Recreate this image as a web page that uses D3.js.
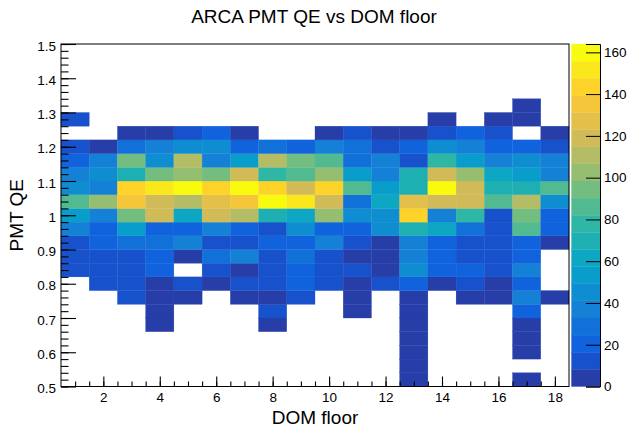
<!DOCTYPE html>
<html>
<head>
<meta charset="utf-8">
<script src="https://cdn.jsdelivr.net/npm/d3@7"></script>
<style>
  body { margin: 0; background: #fff; }
  text { font-family: "Liberation Sans", Arial, Helvetica, sans-serif; }
</style>
</head>
<body>
<div id="chart"></div>
<script>
// DOM floors (x bins) and PMT QE bins (lower edges, width 0.04)
var floors = [1, 2, 3, 4, 5, 6, 7, 8, 9, 10, 11, 12, 13, 14, 15, 16, 17, 18];
var qeLow = [0.50, 0.54, 0.58, 0.62, 0.66, 0.70, 0.74, 0.78, 0.82, 0.86, 0.90, 0.94, 0.98,
             1.02, 1.06, 1.10, 1.14, 1.18, 1.22, 1.26, 1.30, 1.34, 1.38, 1.42, 1.46];
var qeWidth = 0.04;

// counts[k][floor-1], k = QE bin index
var counts = [
  [0, 0, 0, 0, 0, 0, 0, 0, 0, 0, 0, 0, 3, 0, 0, 0, 2, 0],
  [0, 0, 0, 0, 0, 0, 0, 0, 0, 0, 0, 0, 1, 0, 0, 0, 0, 0],
  [0, 0, 0, 0, 0, 0, 0, 0, 0, 0, 0, 0, 2, 0, 0, 0, 3, 0],
  [0, 0, 0, 0, 0, 0, 0, 0, 0, 0, 0, 0, 2, 0, 0, 0, 4, 0],
  [0, 0, 0, 5, 0, 0, 0, 3, 0, 0, 0, 0, 3, 0, 0, 0, 6, 0],
  [0, 0, 0, 6, 0, 0, 0, 14, 0, 0, 5, 0, 4, 0, 0, 0, 20, 0],
  [0, 0, 11, 7, 6, 0, 5, 7, 13, 0, 4, 0, 6, 0, 7, 5, 36, 5],
  [0, 13, 12, 7, 15, 6, 12, 14, 19, 13, 7, 12, 22, 6, 14, 7, 23, 0],
  [14, 13, 12, 22, 0, 13, 7, 12, 20, 15, 12, 6, 45, 20, 22, 13, 38, 0],
  [13, 14, 11, 19, 6, 30, 37, 13, 28, 11, 7, 6, 38, 21, 14, 12, 19, 0],
  [12, 21, 30, 27, 36, 12, 13, 20, 22, 35, 11, 6, 38, 21, 12, 13, 22, 7],
  [37, 20, 54, 22, 20, 38, 19, 13, 46, 21, 22, 44, 70, 61, 29, 14, 86, 21],
  [53, 36, 94, 120, 62, 118, 111, 69, 60, 102, 45, 46, 143, 38, 79, 13, 95, 21],
  [86, 104, 136, 118, 110, 128, 135, 162, 152, 119, 28, 61, 127, 120, 118, 87, 112, 45],
  [45, 37, 145, 151, 164, 143, 161, 144, 119, 145, 85, 54, 70, 160, 120, 71, 70, 87],
  [36, 46, 70, 95, 104, 96, 120, 77, 86, 102, 53, 37, 70, 119, 103, 61, 54, 38],
  [21, 36, 95, 45, 112, 36, 54, 111, 94, 86, 29, 37, 13, 78, 53, 35, 46, 37],
  [12, 5, 29, 35, 46, 45, 21, 30, 20, 37, 28, 13, 21, 45, 37, 20, 22, 13],
  [0, 0, 6, 5, 13, 21, 5, 0, 0, 6, 12, 5, 4, 13, 21, 12, 0, 6],
  [12, 0, 0, 0, 0, 0, 0, 0, 0, 0, 0, 0, 0, 4, 0, 5, 6, 0],
  [0, 0, 0, 0, 0, 0, 0, 0, 0, 0, 0, 0, 0, 0, 0, 0, 5, 0],
  [0, 0, 0, 0, 0, 0, 0, 0, 0, 0, 0, 0, 0, 0, 0, 0, 0, 0],
  [0, 0, 0, 0, 0, 0, 0, 0, 0, 0, 0, 0, 0, 0, 0, 0, 0, 0],
  [0, 0, 0, 0, 0, 0, 0, 0, 0, 0, 0, 0, 0, 0, 0, 0, 0, 0],
  [0, 0, 0, 0, 0, 0, 0, 0, 0, 0, 0, 0, 0, 0, 0, 0, 0, 0]
];

var xTicks = [2, 4, 6, 8, 10, 12, 14, 16, 18];
var yTicks = [0.5, 0.6, 0.7, 0.8, 0.9, 1.0, 1.1, 1.2, 1.3, 1.4, 1.5];
var zTicks = [0, 20, 40, 60, 80, 100, 120, 140, 160];

var W = 628, H = 427;
var frame = {left: 61, right: 569, top: 44, bottom: 386.5};
var nLevels = 20;

// ROOT kBird palette
var birdStops = [0.0, 0.125, 0.25, 0.375, 0.5, 0.625, 0.75, 0.875, 1.0];
var birdR = [0.2082, 0.0592, 0.0780, 0.0232, 0.1802, 0.5301, 0.8186, 0.9956, 0.9764];
var birdG = [0.1664, 0.3599, 0.5041, 0.6419, 0.7178, 0.7492, 0.7328, 0.7862, 0.9832];
var birdB = [0.5293, 0.8684, 0.8385, 0.7914, 0.6425, 0.4662, 0.3499, 0.1968, 0.0539];
var rS = d3.scaleLinear().domain(birdStops).range(birdR);
var gS = d3.scaleLinear().domain(birdStops).range(birdG);
var bS = d3.scaleLinear().domain(birdStops).range(birdB);
function bird(t) {
  return d3.rgb(rS(t) * 255, gS(t) * 255, bS(t) * 255).toString();
}
function levelColor(i) {
  var idx = Math.floor((i + 0.99) * 255 / nLevels);
  return bird(Math.min(idx, 254) / 254);
}

var zmax = d3.max(counts, function(r) { return d3.max(r); });

var svg = d3.select("#chart").append("svg")
  .attr("width", W).attr("height", H);

var x = d3.scaleLinear().domain([0.5, 18.5]).range([frame.left, frame.right]);
var y = d3.scaleLinear().domain([0.5, 1.5]).range([frame.bottom, frame.top]);
var z = d3.scaleLinear().domain([0, zmax]).range([frame.bottom, frame.top]);

function level(v) {
  return Math.min(nLevels - 1, Math.floor(v / zmax * nLevels));
}

// cells
var cells = [];
counts.forEach(function(row, k) {
  row.forEach(function(v, j) {
    if (v > 0) cells.push({floor: floors[j], qe: qeLow[k], v: v});
  });
});

svg.append("g").selectAll("rect")
  .data(cells)
  .join("rect")
  .attr("x", function(d) { return x(d.floor - 0.5); })
  .attr("y", function(d) { return y(d.qe + qeWidth); })
  .attr("width", function(d) { return x(d.floor + 0.5) - x(d.floor - 0.5); })
  .attr("height", function(d) { return y(d.qe) - y(d.qe + qeWidth); })
  .attr("fill", function(d) { return levelColor(level(d.v)); })
  .attr("stroke", function(d) { return levelColor(level(d.v)); })
  .attr("stroke-width", 0.3);

// frame
svg.append("rect")
  .attr("x", frame.left).attr("y", frame.top)
  .attr("width", frame.right - frame.left)
  .attr("height", frame.bottom - frame.top)
  .attr("fill", "none").attr("stroke", "#000").attr("stroke-width", 1);

// x axis
var xMinor = d3.range(1, 37).map(function(i) { return 0.5 + i * 0.5; }).filter(function(v) { return v < 18.5; });
svg.append("g")
  .attr("transform", "translate(0," + frame.bottom + ")")
  .call(d3.axisBottom(x).tickValues(xMinor).tickSize(-5).tickFormat(""))
  .call(function(g) { g.select(".domain").remove(); });
var xg = svg.append("g")
  .attr("transform", "translate(0," + frame.bottom + ")")
  .call(d3.axisBottom(x).tickValues(xTicks).tickSize(-10).tickPadding(6).tickFormat(d3.format("d")));
xg.select(".domain").remove();
xg.selectAll("text").style("font-size", "13.5px").attr("fill", "#000");

// y axis
var yMinor = d3.range(0, 51).map(function(i) { return 0.5 + i * 0.02; });
svg.append("g")
  .attr("transform", "translate(" + frame.left + ",0)")
  .call(d3.axisLeft(y).tickValues(yMinor).tickSize(-7.5).tickFormat(""))
  .call(function(g) { g.select(".domain").remove(); });
var yg = svg.append("g")
  .attr("transform", "translate(" + frame.left + ",0)")
  .call(d3.axisLeft(y).tickValues(yTicks).tickSize(-15).tickPadding(5)
    .tickFormat(function(d) { return d3.format("")(+d.toFixed(1)); }));
yg.select(".domain").remove();
yg.selectAll("text").style("font-size", "13.5px").attr("fill", "#000").attr("dy", "0.45em");
svg.selectAll(".tick line").attr("stroke", "#000").attr("stroke-width", 1.1);

// colour bar
var bar = {left: 571.5, right: 600};
var bands = d3.range(nLevels);
svg.append("g").selectAll("rect")
  .data(bands)
  .join("rect")
  .attr("x", bar.left)
  .attr("width", bar.right - bar.left)
  .attr("y", function(i) { return z((i + 1) * zmax / nLevels); })
  .attr("height", function(i) { return z(i * zmax / nLevels) - z((i + 1) * zmax / nLevels); })
  .attr("fill", function(i) { return levelColor(i); })
  .attr("stroke", function(i) { return levelColor(i); })
  .attr("stroke-width", 0.3);

var zg = svg.append("g")
  .attr("transform", "translate(" + bar.right + ",0)")
  .call(d3.axisRight(z).tickValues(zTicks).tickSize(-14).tickPadding(4).tickFormat(d3.format("d")));
zg.select(".domain").attr("stroke", "#000");
zg.selectAll("line").attr("stroke", "#000");
zg.selectAll("text").style("font-size", "13.5px").attr("fill", "#000");

// titles
svg.append("text")
  .attr("x", 314).attr("y", 22.5)
  .attr("text-anchor", "middle")
  .style("font-size", "19px")
  .text("ARCA PMT QE vs DOM floor");

svg.append("text")
  .attr("x", (frame.left + frame.right) / 2).attr("y", 423.5)
  .attr("text-anchor", "middle")
  .style("font-size", "19px")
  .text("DOM floor");

svg.append("text")
  .attr("transform", "translate(23," + (frame.top + frame.bottom) / 2 + ") rotate(-90)")
  .attr("text-anchor", "middle")
  .style("font-size", "19px")
  .text("PMT QE");
</script>
</body>
</html>
